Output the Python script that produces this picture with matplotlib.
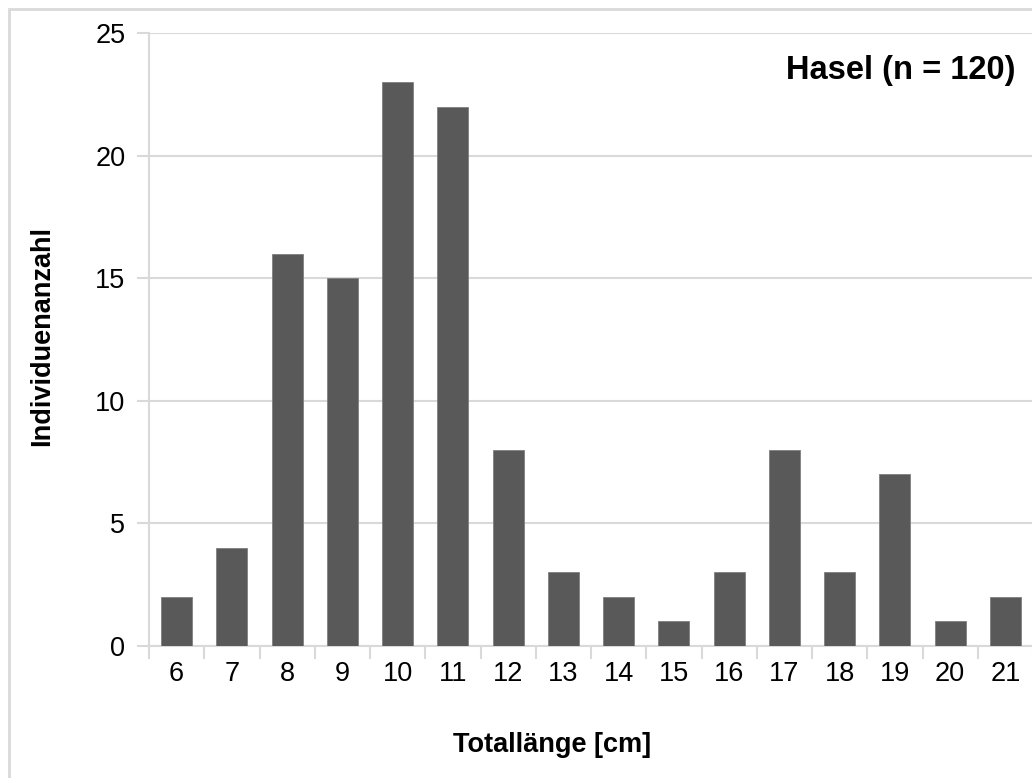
import matplotlib.pyplot as plt
from matplotlib.patches import Rectangle

plt.rcParams['font.family'] = ['Liberation Sans', 'DejaVu Sans']

# Daten
laengen = [6, 7, 8, 9, 10, 11, 12, 13, 14, 15, 16, 17, 18, 19, 20, 21]
anzahl = [2, 4, 16, 15, 23, 22, 8, 3, 2, 1, 3, 8, 3, 7, 1, 2]

W, H = 1032, 778
fig = plt.figure(figsize=(W / 100, H / 100), dpi=100)
ax = fig.add_axes([149 / W, 1 - 646 / H, 884 / W, (646 - 33) / H])

grau = '#d9d9d9'
pos = list(range(len(laengen)))
ax.bar(pos, anzahl, width=0.56, color='#595959', edgecolor='#7f7f7f', linewidth=0.6, zorder=3)

ax.set_xlim(-0.5, len(laengen) - 0.5)
ax.set_ylim(0, 25)
ax.set_yticks([0, 5, 10, 15, 20, 25])
ax.grid(axis='y', color=grau, linewidth=1.5, zorder=0)

# Kategorie-Ticks an den Grenzen
ax.set_xticks([p - 0.5 for p in pos] + [len(laengen) - 0.5])
ax.set_xticklabels([])
ax.set_xticks(pos, minor=True)
ax.set_xticklabels([str(l) for l in laengen], minor=True)
ax.tick_params(axis='x', which='major', length=9, width=1.5, color=grau, direction='out')
ax.tick_params(axis='x', which='minor', length=0, pad=11, labelsize=19.5)
ax.tick_params(axis='y', length=9, width=1.5, color=grau, labelsize=19.5, pad=8)

for s in ['top', 'right']:
    ax.spines[s].set_visible(False)
for s in ['left', 'bottom']:
    ax.spines[s].set_color(grau)
    ax.spines[s].set_linewidth(1.5)

fig.text(1015 / W, 1 - 70 / H, 'Hasel (n = 120)', ha='right', va='center',
         fontsize=23.5, fontweight='bold')
fig.text(552 / W, 1 - 745 / H, 'Totallänge [cm]', ha='center', va='center',
         fontsize=19.5, fontweight='bold')
fig.text(42 / W, 1 - 336 / H, 'Individuenanzahl', ha='center', va='center',
         rotation=90, fontsize=19.5, fontweight='bold')

# Rahmen um das Diagramm
fig.patches.append(Rectangle((9 / W, -0.1), 1.2, 1 - 9 / H + 0.1, transform=fig.transFigure,
                             fill=False, edgecolor=grau, linewidth=2, zorder=0))

fig.savefig('out.png', dpi=100, facecolor='white')
